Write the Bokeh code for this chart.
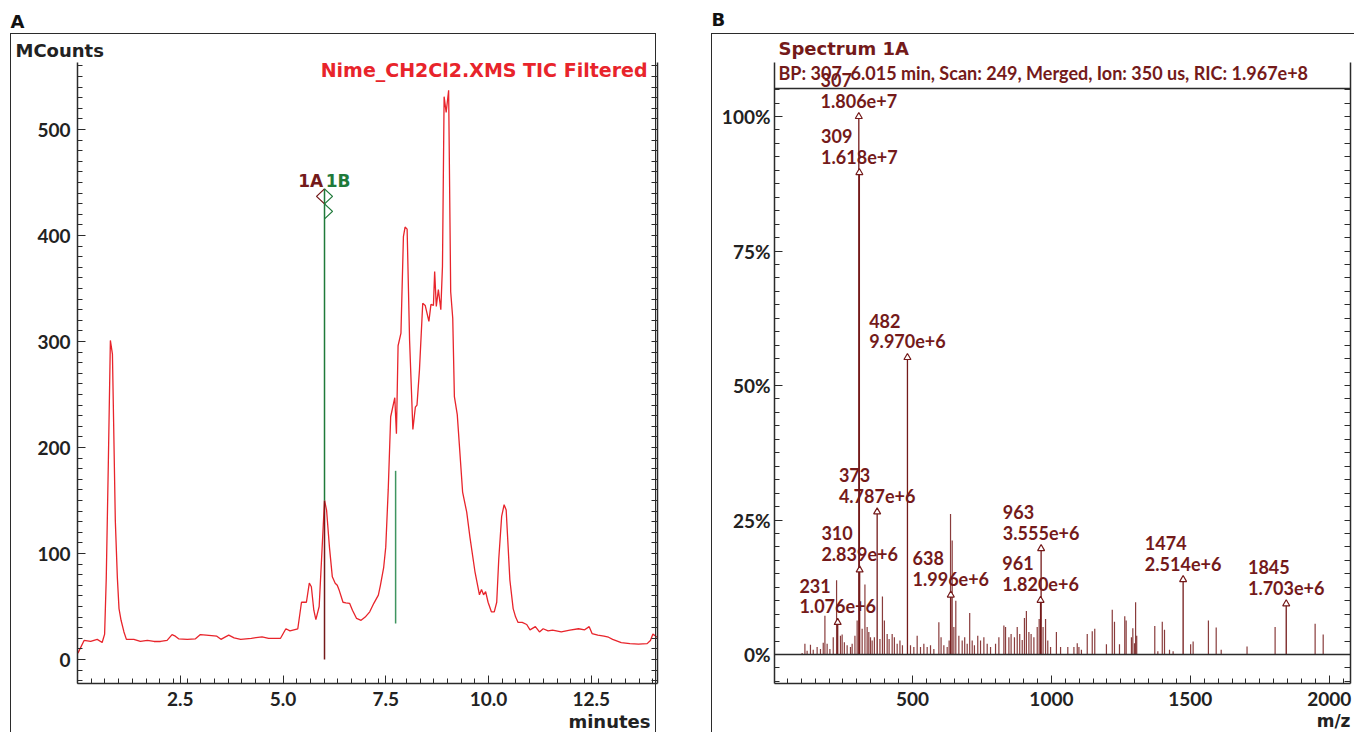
import math
from bokeh.plotting import figure
from bokeh.models import (Range1d, LinearAxis, FixedTicker, PrintfTickFormatter, Label,
                          LabelSet, ColumnDataSource, Span, Title, InlineStyleSheet)
from bokeh.layouts import row
from bokeh.embed import file_html
from bokeh.resources import INLINE
from bokeh.core.properties import value

# ---------------- data: panel A (TIC chromatogram) ----------------
tic_time = [0.01, 0.16, 0.32, 0.48, 0.60, 0.66, 0.70, 0.75, 0.80, 0.85, 0.88, 0.92, 0.97,
            1.01, 1.06, 1.13, 1.19, 1.37, 1.53, 1.70, 1.86, 2.02, 2.18, 2.30, 2.38, 2.46,
            2.67, 2.87, 2.99, 3.13, 3.39, 3.49, 3.60, 3.68, 3.81, 3.97, 4.23, 4.49, 4.65,
            4.94, 5.07, 5.17, 5.36, 5.45, 5.57, 5.64, 5.69, 5.75, 5.80, 5.88, 6.01, 6.06,
            6.13, 6.20, 6.27, 6.32, 6.37, 6.46, 6.53, 6.62, 6.69, 6.79, 6.90, 7.00, 7.11,
            7.21, 7.32, 7.37, 7.45, 7.50, 7.56, 7.62, 7.72, 7.76, 7.80, 7.87, 7.93, 7.97,
            8.02, 8.08, 8.16, 8.22, 8.26, 8.32, 8.40, 8.46, 8.55, 8.60, 8.66, 8.69, 8.73,
            8.78, 8.84, 8.88, 8.92, 8.97, 9.03, 9.08, 9.13, 9.17, 9.24, 9.29, 9.37, 9.47,
            9.55, 9.67, 9.78, 9.83, 9.88, 9.93, 9.99, 10.07, 10.14, 10.20, 10.25, 10.32,
            10.38, 10.43, 10.52, 10.60, 10.66, 10.72, 10.82, 10.93, 11.01, 11.14, 11.24,
            11.33, 11.45, 11.56, 11.77, 11.98, 12.19, 12.34, 12.45, 12.52, 12.66, 12.81,
            12.92, 13.02, 13.23, 13.44, 13.65, 13.86, 13.94, 14.00, 14.10]
tic_counts = [6, 18, 17, 19, 16, 24, 77, 185, 301, 288, 221, 131, 77,
              48, 37, 26, 19, 19, 17, 18, 17, 17, 18, 23.5, 22, 19.5,
              19, 19.5, 23.5, 23, 22, 19, 21.4, 23, 20.4, 19, 20, 21.4, 20,
              20, 29, 27, 29, 54, 54, 72, 68.6, 46.5, 37.7, 50, 150, 141,
              106, 78, 72, 70, 65, 54, 53.5, 53, 46.5, 38.7, 37, 40, 45,
              53, 60.7, 70, 87, 106, 160, 229, 247, 213, 296, 308, 399, 408,
              406, 301, 217, 238, 240, 273, 336, 334, 319, 335, 334, 366, 333,
              349, 330, 371, 531, 516, 537, 347, 322, 248, 231, 203, 158, 139,
              115, 83, 61, 66, 61, 64, 54, 45, 45, 54, 95, 135,
              146, 141, 75, 48, 40, 35, 35, 33, 28, 31, 26,
              29, 27, 27.7, 26, 27.7, 29, 28, 31, 24.5, 23, 22,
              21, 19, 16, 15, 14.5, 15, 18, 24, 21]

marker_1a_time = 6.01        # minutes
marker_1a_peak = 150         # MCounts at the peak apex
marker_top = 444             # MCounts, top of the marker line
marker_1b_time = 7.74
marker_1b_low = 34
marker_1b_high = 178

# ---------------- data: panel B (mass spectrum) ----------------
base_peak_intensity = 1.806e7
stick_mz = [103, 113, 121, 133, 143, 157, 169, 179, 185, 193, 203, 215, 227, 241, 247, 255,
            265, 277, 283, 293, 301, 319, 329, 337, 343, 349, 355, 363, 383, 392, 399, 409,
            416, 427, 435, 445, 455, 464, 493, 505, 517, 529, 541, 553, 565, 577, 595, 603,
            613, 625, 632, 637, 643, 649, 656, 667, 679, 688, 697, 706, 715, 723, 735, 745,
            757, 769, 781, 799, 811, 829, 835, 847, 855, 867, 877, 886, 895, 903, 910, 919,
            927, 937, 949, 956, 970, 979, 987, 997, 1018, 1033, 1059, 1081, 1093, 1099, 1108,
            1129, 1147, 1156, 1198, 1219, 1227, 1245, 1264, 1269, 1288, 1293, 1299, 1303, 1307,
            1372, 1383, 1399, 1407, 1425, 1438, 1501, 1510, 1565, 1593, 1611, 1704, 1805, 1949,
            1978]
stick_pct = [0.3, 2.0, 0.7, 1.8, 0.9, 1.4, 1.0, 2.2, 7.2, 2.0, 1.0, 3.2, 13.8, 3.5, 3.7, 2.3,
             1.7, 1.4, 2.0, 3.5, 6.3, 4.8, 13.0, 5.1, 4.2, 3.2, 2.6, 3.2, 2.9, 10.8, 6.3, 3.8,
             2.9, 3.8, 3.2, 2.0, 2.6, 1.7, 1.7, 1.4, 3.5, 1.4, 2.0, 1.4, 1.7, 1.0, 6.0, 3.2,
             1.7, 1.4, 2.6, 26.1, 21.2, 5.1, 10.0, 3.5, 2.6, 3.2, 2.0, 7.7, 2.6, 1.7, 3.5, 2.6,
             3.2, 2.0, 1.4, 2.0, 3.2, 5.4, 5.1, 3.2, 3.8, 3.2, 5.1, 3.8, 2.7, 6.8, 8.1, 4.2,
             3.8, 3.2, 5.1, 6.6, 5.1, 6.6, 2.6, 1.4, 4.2, 1.4, 1.4, 1.4, 2.1, 1.4, 0.9,
             3.8, 4.3, 4.8, 1.9, 8.3, 6.1, 1.9, 7.1, 6.3, 3.2, 4.9, 2.1, 9.7, 3.5,
             5.3, 0.6, 6.1, 4.6, 0.9, 0.6, 1.9, 2.4, 6.3, 5.0, 0.9, 1.5, 5.1, 5.7,
             3.7]
labelled_mz = [307, 309, 482, 373, 963, 310, 1474, 638, 961, 1845, 231]
labelled_intensity = [1.806e7, 1.618e7, 9.970e6, 4.787e6, 3.555e6, 2.839e6, 2.514e6,
                      1.996e6, 1.820e6, 1.703e6, 1.076e6]

chrom_title = "Nime_CH2Cl2.XMS TIC Filtered"
spec_title = "Spectrum 1A"
spec_info = "BP: 307\u00a0 6.015 min, Scan: 249, Merged, Ion: 350 us, RIC: 1.967e+8"

# ---------------- styling ----------------
NUMFONT = "Lato"
TXTFONT = "DejaVu Sans"
RED = "#e8242b"
DARKRED = "#741a1a"
GREEN = "#1f7a3a"
LGREEN = "#3f9560"
AXIS = "#2b2b2b"
TICKLAB = "#222222"

H = 732
BT, BB = 62, 49        # shared top / bottom borders (frames are aligned in a row)


def style_axis(ax, size="19px", standoff=6):
    ax.axis_line_color = AXIS
    ax.axis_line_width = 1.5
    ax.major_tick_line_color = AXIS
    ax.minor_tick_line_color = AXIS
    ax.major_tick_in = 8
    ax.major_tick_out = 0
    ax.minor_tick_in = 5
    ax.minor_tick_out = 0
    ax.major_label_text_font = NUMFONT
    ax.major_label_text_font_style = "bold"
    ax.major_label_text_color = TICKLAB
    ax.major_label_text_font_size = size
    ax.major_label_standoff = standoff


def tick_only_axis(minor):
    ax = LinearAxis(ticker=FixedTicker(ticks=[], minor_ticks=minor))
    ax.axis_line_color = AXIS
    ax.axis_line_width = 1.5
    ax.minor_tick_line_color = AXIS
    ax.minor_tick_in = 6
    ax.minor_tick_out = 0
    ax.major_label_standoff = 0
    return ax


def add_label(p, x, y, text, color, font, size, align="left"):
    p.add_layout(Label(x=x, y=y, text=text, text_color=color, text_font=font,
                       text_font_style="bold", text_font_size=size, text_align=align,
                       text_baseline="middle"))


def side_title(p, text, color, font, size, align, offset, standoff, loc):
    p.add_layout(Title(text=text, align=align, offset=offset, standoff=standoff,
                       text_color=color, text_font=font, text_font_style="bold",
                       text_font_size=size), loc)


# ================= Panel A =================
A_W = 700
A_BL, A_BR = 77, 43
a_pxmin = 41.1          # px per minute
a_pxcount = 1.06        # px per MCount
a_x0 = 0.0
a_x1 = (A_W - A_BL - A_BR) / a_pxmin
a_zero_y = 659          # canvas y of 0 MCounts
a_y0 = (a_zero_y - (H - BB)) / a_pxcount
a_y1 = (a_zero_y - BT) / a_pxcount

def ax_(px):
    return (px - A_BL) / a_pxmin
def ay_(py):
    return (a_zero_y - py) / a_pxcount

pA = figure(width=A_W, height=H, output_backend="svg", toolbar_location=None,
            x_range=Range1d(a_x0, a_x1), y_range=Range1d(a_y0, a_y1),
            x_axis_location=None, y_axis_location=None,
            min_border_left=A_BL, min_border_right=A_BR, min_border_top=BT,
            min_border_bottom=BB, outline_line_color=None, background_fill_color="white",
            border_fill_color="white")
pA.grid.visible = False

yt = FixedTicker(ticks=[0, 100, 200, 300, 400, 500], minor_ticks=list(range(-20, 561, 10)))
xt = FixedTicker(ticks=[2.5, 5.0, 7.5, 10.0, 12.5], minor_ticks=[k / 3 for k in range(0, 43)])
ya = LinearAxis(ticker=yt)
style_axis(ya, standoff=7)
pA.add_layout(ya, "left")
pA.add_layout(tick_only_axis(list(range(-20, 561, 10))), "right")
xa = LinearAxis(ticker=xt, formatter=PrintfTickFormatter(format="%.1f"))
style_axis(xa, standoff=8)
pA.add_layout(xa, "below")

side_title(pA, "MCounts", "#222222", TXTFONT, "18px", "left", 15 - A_BL, 4, "above")
side_title(pA, "A", "#111111", TXTFONT, "18px", "left", 10 - A_BL, 8, "above")
side_title(pA, "minutes", "#222222", TXTFONT, "18px", "right", A_W - A_BR - 650, 0, "below")

pA.line(tic_time, tic_counts, line_color=RED, line_width=1.3)

# marker lines
pA.segment(x0=[marker_1a_time], y0=[0], x1=[marker_1a_time], y1=[marker_1a_peak],
           line_color=DARKRED, line_width=1.5)
pA.segment(x0=[marker_1a_time], y0=[marker_1a_peak], x1=[marker_1a_time], y1=[marker_top],
           line_color=GREEN, line_width=1.5)
pA.segment(x0=[marker_1b_time], y0=[marker_1b_low], x1=[marker_1b_time], y1=[marker_1b_high],
           line_color=LGREEN, line_width=1.5)
# chevron flags
dx = 8 / a_pxmin
dy = 7.5 / a_pxcount
pA.line([marker_1a_time, marker_1a_time - dx, marker_1a_time],
        [marker_top, marker_top - dy, marker_top - 2 * dy], line_color=DARKRED, line_width=1.3)
pA.line([marker_1a_time, marker_1a_time + dx, marker_1a_time],
        [marker_top, marker_top - dy, marker_top - 2 * dy], line_color=GREEN, line_width=1.3)
pA.line([marker_1a_time, marker_1a_time + dx, marker_1a_time],
        [marker_top - 2 * dy, marker_top - 3 * dy, marker_top - 4 * dy],
        line_color=GREEN, line_width=1.3)
add_label(pA, marker_1a_time - 0.03, ay_(180), "1A", DARKRED, TXTFONT, "17px", align="right")
add_label(pA, marker_1a_time + 0.03, ay_(180), "1B", GREEN, TXTFONT, "17px", align="left")

add_label(pA, ax_(647), ay_(69), chrom_title, RED, TXTFONT, "19px", align="right")

pA.stylesheets = [InlineStyleSheet(css=(
    ":host::after{content:'';position:fixed;left:10px;top:33px;width:646px;height:760px;"
    "border-left:1.5px solid #2b2b2b;border-top:1.5px solid #2b2b2b;"
    "border-right:1.5px solid #2b2b2b;pointer-events:none;z-index:10;}"))]

# ================= Panel B =================
B_W = 654
B_BL, B_BR = 74, 4
px_per_mz = 0.2779
b_mz0_x = 73            # canvas x (within panel B) of m/z 0
b_x0 = (B_BL - b_mz0_x) / px_per_mz
b_x1 = (B_W - B_BR - b_mz0_x) / px_per_mz
px_per_pct = 5.38
b_zero_y = 654
b_y0 = (b_zero_y - (H - BB)) / px_per_pct
b_y1 = (b_zero_y - BT) / px_per_pct
frame_top_pct = (b_zero_y - 88) / px_per_pct

def bx_(px):
    return (px - b_mz0_x) / px_per_mz
def by_(py):
    return (b_zero_y - py) / px_per_pct

pB = figure(width=B_W, height=H, output_backend="svg", toolbar_location=None,
            x_range=Range1d(b_x0, b_x1), y_range=Range1d(b_y0, b_y1),
            x_axis_location=None, y_axis_location=None,
            min_border_left=B_BL, min_border_right=B_BR, min_border_top=BT,
            min_border_bottom=BB, outline_line_color=None,
            background_fill_color="white", border_fill_color="white")
pB.grid.visible = False

b_minor = [k * 2.5 for k in range(-2, 43)]
ybt = FixedTicker(ticks=[0, 25, 50, 75, 100], minor_ticks=b_minor)
xbt = FixedTicker(ticks=[500, 1000, 1500, 2000], minor_ticks=list(range(0, 2101, 50)))
yba = LinearAxis(ticker=ybt, formatter=PrintfTickFormatter(format="%d%%"))
style_axis(yba, standoff=4)
pB.add_layout(yba, "left")
pB.add_layout(tick_only_axis(b_minor), "right")
xba = LinearAxis(ticker=xbt)
style_axis(xba, standoff=8)
pB.add_layout(xba, "below")

side_title(pB, spec_title, DARKRED, TXTFONT, "18px", "left", 778 - 700 - B_BL, 7, "above")
side_title(pB, "B", "#111111", TXTFONT, "18px", "left", 711 - 700 - B_BL, 5, "above")
side_title(pB, "m/z", "#222222", TXTFONT, "17px", "right", 0, 0, "below")

pB.add_layout(Span(location=0, dimension="width", line_color=AXIS, line_width=1.5))
pB.add_layout(Span(location=frame_top_pct, dimension="width", line_color=AXIS, line_width=1.5))

pB.segment(x0=stick_mz, y0=[0] * len(stick_mz), x1=stick_mz, y1=stick_pct,
           line_color=DARKRED, line_width=1.2, line_alpha=0.85)

lab_pct = [v / base_peak_intensity * 100 for v in labelled_intensity]
pB.segment(x0=labelled_mz, y0=[0] * len(labelled_mz), x1=labelled_mz, y1=lab_pct,
           line_color=DARKRED, line_width=1.3)
pB.scatter(labelled_mz, lab_pct, marker="triangle", size=7, fill_color="white",
           line_color=DARKRED, line_width=1.2)


def sci(v):
    e = int(math.floor(math.log10(v)))
    return f"{v / 10 ** e:.3f}e+{e}"


lab_text = [f"{m}\n{sci(v)}" for m, v in zip(labelled_mz, labelled_intensity)]
src = ColumnDataSource(dict(x=labelled_mz, y=lab_pct, t=lab_text))
pB.add_layout(LabelSet(x="x", y="y", text="t", source=src, text_align="center",
                       text_baseline="bottom", y_offset=5, text_color=DARKRED,
                       text_font=value(NUMFONT), text_font_style="bold", text_font_size="18px",
                       text_line_height=0.95))

add_label(pB, bx_(778 - 700), by_(72), spec_info, DARKRED, NUMFONT, "18px")

pB.stylesheets = [InlineStyleSheet(css=(
    ":host::after{content:'';position:fixed;left:711px;top:33px;width:700px;height:760px;"
    "border-left:1.5px solid #2b2b2b;border-top:1.5px solid #2b2b2b;"
    "pointer-events:none;z-index:10;}"))]

layout = row(pA, pB)
open("out.html", "w").write(file_html(layout, INLINE))
